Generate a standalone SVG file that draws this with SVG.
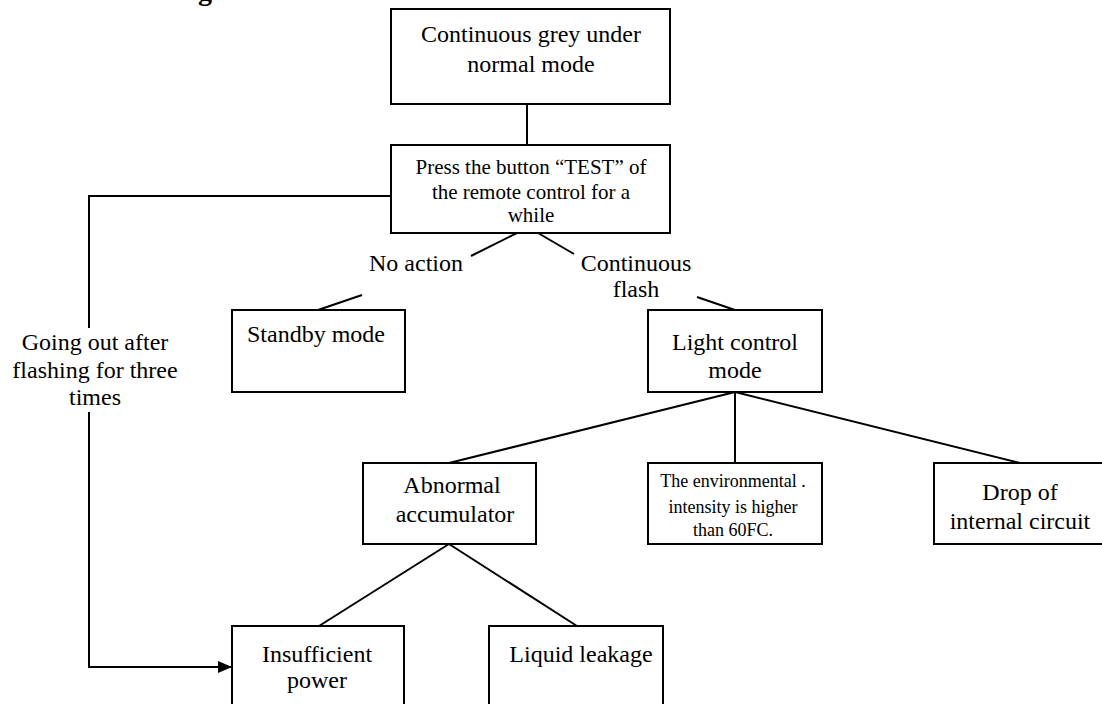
<svg xmlns="http://www.w3.org/2000/svg" width="1102" height="704" viewBox="0 0 1102 704">
<style>
.box{fill:#fff;stroke:#000;stroke-width:2}
.ln{fill:none;stroke:#000;stroke-width:2}
text{font-family:"Liberation Serif","Times New Roman",serif;fill:#000;text-anchor:middle}
.t24{font-size:24px}
.t21{font-size:21px}
.t18{font-size:18px}
</style>
<defs>
<marker id="arr" markerWidth="14" markerHeight="12" refX="14" refY="6" orient="auto" markerUnits="userSpaceOnUse">
<path d="M0,0 L14,6 L0,12 Z" fill="#000"/>
</marker>
</defs>
<rect width="1102" height="704" fill="#fff"/>
<text x="198" y="0" style="font-size:28px;font-weight:bold;text-anchor:start">g</text>
<g id="connectors">
<line class="ln" x1="527" y1="104" x2="527" y2="145"/>
<line class="ln" x1="517" y1="233" x2="471" y2="256"/>
<line class="ln" x1="538" y1="233" x2="574" y2="254"/>
<line class="ln" x1="362" y1="295" x2="318" y2="310"/>
<line class="ln" x1="697" y1="297" x2="735" y2="310"/>
<line class="ln" x1="735" y1="392" x2="449" y2="463"/>
<line class="ln" x1="735" y1="392" x2="735" y2="463"/>
<line class="ln" x1="735" y1="392" x2="1020" y2="463"/>
<line class="ln" x1="449" y1="544" x2="319" y2="626"/>
<line class="ln" x1="449" y1="544" x2="577" y2="626"/>
<polyline class="ln" points="391,196 89,196 89,328"/>
<polyline class="ln" points="89,412 89,667 232,667" marker-end="url(#arr)"/>
<text class="t24" x="95" y="350">Going out after</text>
<text class="t24" x="95" y="378">flashing for three</text>
<text class="t24" x="95" y="405">times</text>
<text class="t24" x="416" y="271">No action</text>
<text class="t24" x="636" y="271">Continuous</text>
<text class="t24" x="636" y="297">flash</text>
</g>
<g id="n-normal">
<rect class="box" x="391" y="9" width="279" height="95"/>
<text class="t24" x="531" y="42">Continuous grey under</text>
<text class="t24" x="531" y="72">normal mode</text>
</g>
<g id="n-test">
<rect class="box" x="391" y="145" width="279" height="88"/>
<text class="t21" x="531" y="174">Press the button “TEST” of</text>
<text class="t21" x="531" y="199">the remote control for a</text>
<text class="t21" x="531" y="222">while</text>
</g>
<g id="n-standby">
<rect class="box" x="232" y="310" width="173" height="82"/>
<text class="t24" x="316" y="342">Standby mode</text>
</g>
<g id="n-light">
<rect class="box" x="648" y="310" width="174" height="82"/>
<text class="t24" x="735" y="350">Light control</text>
<text class="t24" x="735" y="378">mode</text>
</g>
<g id="n-abnormal">
<rect class="box" x="363" y="463" width="173" height="81"/>
<text class="t24" x="452" y="493">Abnormal</text>
<text class="t24" x="455" y="522">accumulator</text>
</g>
<g id="n-env">
<rect class="box" x="648" y="463" width="174" height="81"/>
<text class="t18" x="733" y="487">The environmental .</text>
<text class="t18" x="733" y="513">intensity is higher</text>
<text class="t18" x="733" y="536">than 60FC.</text>
</g>
<g id="n-drop">
<rect class="box" x="934" y="463" width="174" height="81"/>
<text class="t24" x="1020" y="500">Drop of</text>
<text class="t24" x="1020" y="529">internal circuit</text>
</g>
<g id="n-insufficient">
<rect class="box" x="232" y="626" width="172" height="90"/>
<text class="t24" x="317" y="662">Insufficient</text>
<text class="t24" x="317" y="688">power</text>
</g>
<g id="n-liquid">
<rect class="box" x="489" y="626" width="174" height="90"/>
<text class="t24" x="581" y="662">Liquid leakage</text>
</g>
</svg>
